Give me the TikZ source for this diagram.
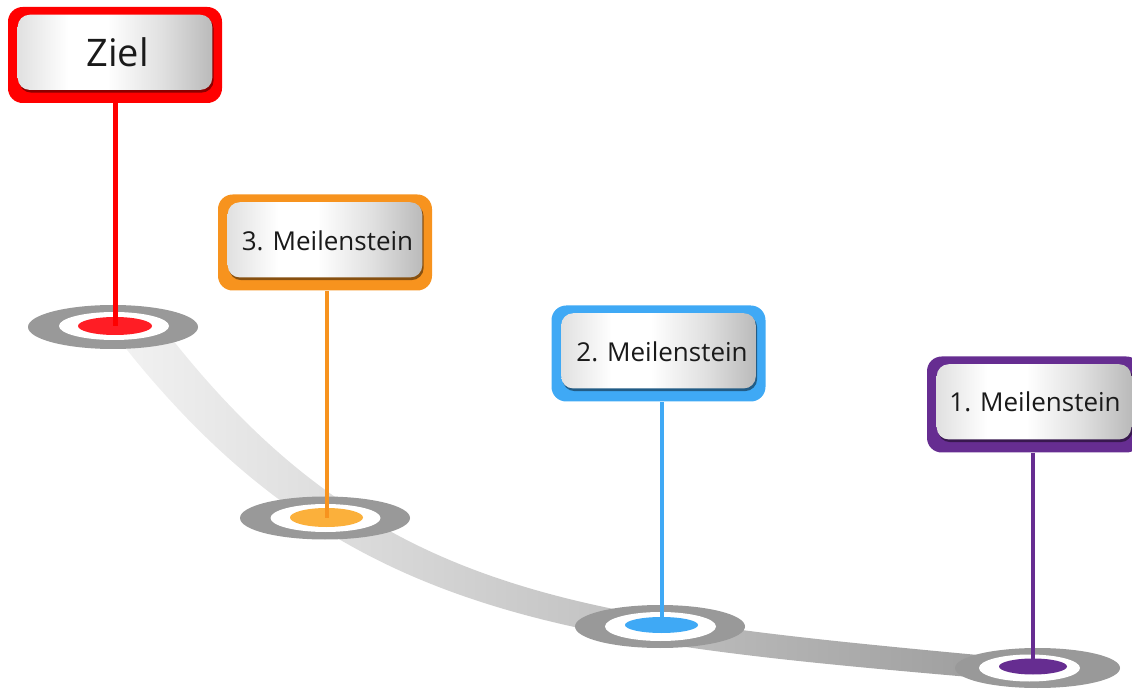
\documentclass[tikz,border=0pt]{standalone}
\usepackage{fontspec}
\setmainfont{Open Sans}
\usetikzlibrary{shapes.geometric}
\definecolor{zred}{HTML}{FF0000}
\definecolor{zredcore}{HTML}{FF1D25}
\definecolor{zorange}{HTML}{F7931E}
\definecolor{zorangecore}{HTML}{FBB03B}
\definecolor{zblue}{HTML}{3FA9F5}
\definecolor{zpurple}{HTML}{662D91}
\definecolor{ringgray}{HTML}{999999}
\definecolor{inktext}{HTML}{1A1A1A}
\pgfdeclarehorizontalshading{panelshade}{100bp}{color(0bp)=(black!12); color(25bp)=(black!12); color(38bp)=(white); color(48bp)=(white); color(62bp)=(black!12); color(75bp)=(black!27); color(100bp)=(black!27)}
\begin{document}
\begin{tikzpicture}[x=0.75pt,y=-0.75pt,
 frame/.style={rectangle, rounded corners=11pt, minimum width=160.5pt, minimum height=72pt, inner sep=0pt},
 panel/.style={shading=panelshade, rounded corners=9pt},
 panelshadow/.style={fill=black, opacity=0.45, rounded corners=9pt},
 core/.style={ellipse, inner sep=0pt, draw=none},
 ringout/.style={fill=ringgray},
 ringin/.style={fill=white},
 label/.style={text=inktext, inner sep=0pt, font=\fontsize{19.5}{23}\selectfont},
 biglabel/.style={text=inktext, inner sep=0pt, font=\fontsize{28.5}{34}\selectfont},
 pin/.style={line width=3pt}]
\useasboundingbox (0,0) rectangle (1132,691);
\clip (0,0) rectangle (1132,691);
% road
\shade[left color=black!5, middle color=black!30, right color=black!40]
 (154.4,313.2) -- (166.4,331.9) .. controls (383,609) and (591,618) .. (1041,661)
 -- (1039,683) .. controls (589,644) and (357,631) .. (133.6,358.1) -- (113.6,333.1) -- cycle;
% rings
\fill[ringout] (113,327) ellipse [x radius=85, y radius=22];
\fill[ringin] (114,326) ellipse [x radius=55, y radius=14];
\node[core, fill=zredcore, minimum width=55.5pt, minimum height=13.5pt] (c1) at (115,326) {};
\fill[ringout] (325,518) ellipse [x radius=85, y radius=21.5];
\fill[ringin] (325.5,518) ellipse [x radius=55, y radius=14];
\node[core, fill=zorangecore, minimum width=54.75pt, minimum height=14.25pt] (c2) at (326.5,517.5) {};
\fill[ringout] (660,626.5) ellipse [x radius=85, y radius=21.5];
\fill[ringin] (660.5,626.5) ellipse [x radius=55.5, y radius=14.5];
\node[core, fill=zblue, minimum width=54.75pt, minimum height=12pt] (c3) at (661.5,625) {};
\fill[ringout] (1037.5,668) ellipse [x radius=82.5, y radius=20];
\fill[ringin] (1029.5,668) ellipse [x radius=50.5, y radius=13.5];
\node[core, fill=zpurple, minimum width=51pt, minimum height=12pt] (c4) at (1033,666.5) {};
% frames
\node[frame, fill=zred] (f1) at (115,55) {};
\node[frame, fill=zorange] (f2) at (325,242.5) {};
\node[frame, fill=zblue] (f3) at (658.5,353.5) {};
\node[frame, fill=zpurple] (f4) at (1034,404.5) {};
\foreach \f in {f1,f2,f3,f4}{
 \fill[panelshadow] ([shift={(8.5pt,-7.5pt)}]\f.north west) rectangle ([shift={(-6.5pt,8pt)}]\f.south east);
 \shade[panel] ([shift={(7.5pt,-6pt)}]\f.north west) rectangle ([shift={(-7.5pt,10pt)}]\f.south east);
}
% labels
\node[biglabel] (t1) at (117.5,52) {Ziel};
\node[label] (t2) at (327.5,241) {3. Meilenstein};
\node[label] (t3) at (662,352) {2. Meilenstein};
\node[label] (t4) at (1035,402) {1. Meilenstein};
% pins
\draw[pin, zred, line width=3.75pt] (c1 |- f1.south) -- (c1.center);
\draw[pin, zorange] (c2 |- f2.south) -- (c2.center);
\draw[pin, zblue] (c3 |- f3.south) -- (c3.center);
\draw[pin, zpurple] (c4 |- f4.south) -- (c4.center);
\end{tikzpicture}
\end{document}
